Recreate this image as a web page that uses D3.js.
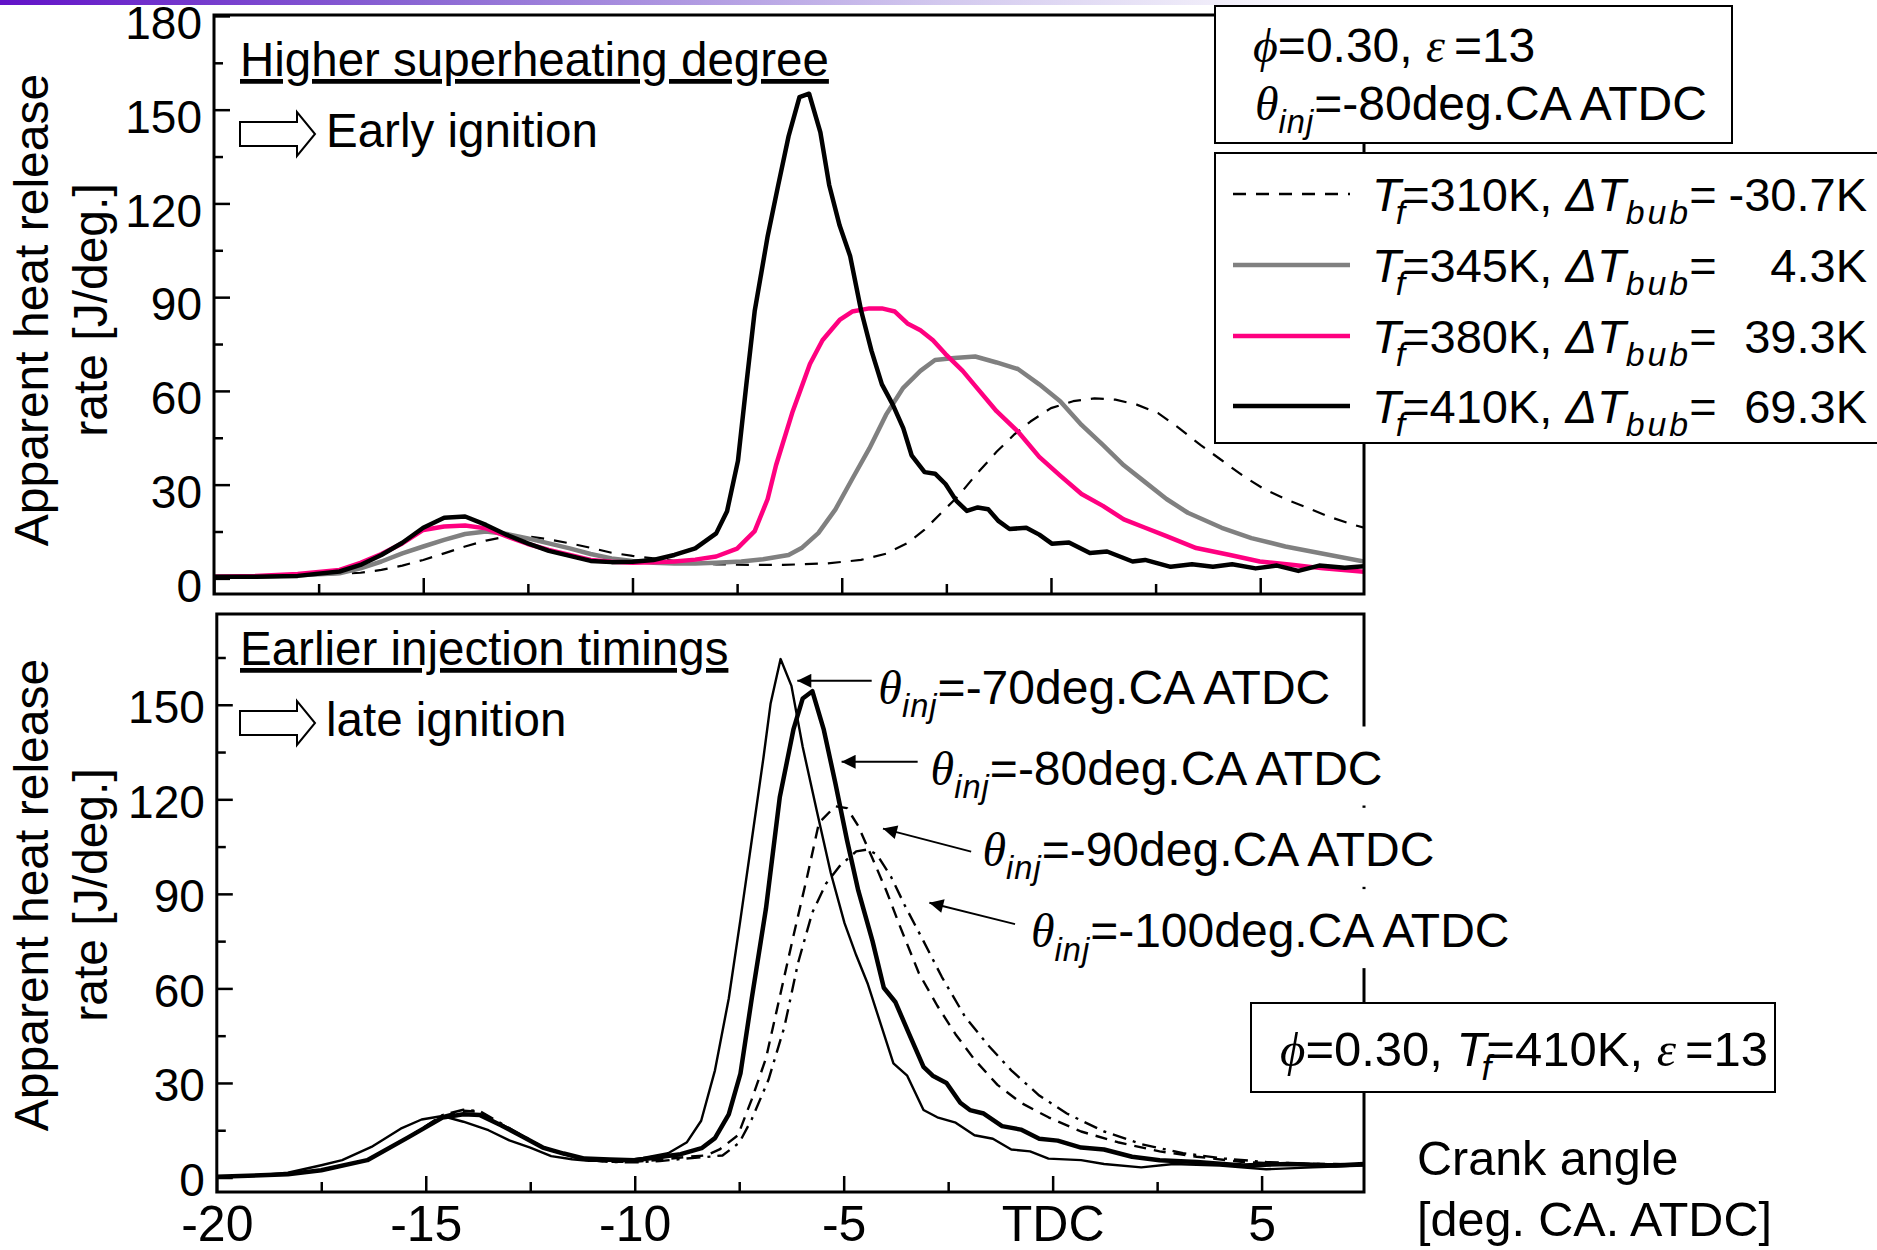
<!DOCTYPE html>
<html>
<head>
<meta charset="utf-8">
<script src="https://cdnjs.cloudflare.com/ajax/libs/d3/7.8.5/d3.min.js"></script>
<style>
  body { margin: 0; background: #fff; }
  svg { display: block; font-family: "Liberation Sans", Arial, sans-serif; }
  text { white-space: pre; }
</style>
</head>
<body>
<div id="chart"></div>
<script>
// Tick values
const xMajor = [-20, -15, -10, -5, 0, 5];
const xMinor = [-17.5, -12.5, -7.5, -2.5, 2.5];
const yMajorTop = [0, 30, 60, 90, 120, 150, 180];
const yMajorBottom = [0, 30, 60, 90, 120, 150];
const yMinor = [15, 45, 75, 105, 135, 165];

// Top panel: fuel temperature series [crank angle, heat release rate]
const top310 = [[-20,0.5],[-19,0.6],[-18,1.0],[-17,1.4],[-16.5,1.8],[-16,2.7],[-15.5,4.1],[-15,5.9],[-14.5,8.0],[-14,10.2],[-13.5,12.1],[-13,13.4],[-12.5,13.4],[-12,12.5],[-11.5,11.2],[-11,9.8],[-10.5,8.2],[-10,7.2],[-9.5,6.4],[-9,5.6],[-8.5,4.8],[-8,4.5],[-7,4.3],[-6.4,4.3],[-5.35,4.8],[-4.54,5.9],[-3.94,7.9],[-3.43,11.3],[-3.02,15.6],[-2.62,21.0],[-2.21,26.4],[-1.81,32.9],[-1.3,40.5],[-0.89,45.9],[-0.49,50.2],[0,54.5],[0.53,56.7],[1.04,57.6],[1.54,57.2],[2.05,55.6],[2.56,52.9],[3.06,48.1],[3.57,42.7],[4.08,37.8],[4.58,32.9],[5.09,28.6],[5.6,25.4],[6.11,22.7],[6.61,19.9],[7.22,17.2],[7.48,16.2]];
const top345 = [[-20,0.5],[-19,0.6],[-18,1.0],[-17,1.6],[-16.5,3.2],[-16,5.4],[-15.5,8.0],[-15,10.2],[-14.5,12.3],[-14,14.2],[-13.5,15.0],[-13,14.2],[-12.5,12.8],[-12,11.2],[-11.5,9.6],[-11,7.8],[-10.5,6.4],[-10,5.6],[-9.5,5.0],[-9,4.8],[-8.5,4.8],[-8,5.0],[-7.4,5.4],[-6.88,6.1],[-6.27,7.5],[-5.96,9.7],[-5.56,14.5],[-5.15,22.1],[-4.75,31.8],[-4.34,41.6],[-3.94,52.4],[-3.53,61.0],[-3.12,66.4],[-2.77,69.9],[-2.31,70.5],[-1.81,71.0],[-1.3,69.1],[-0.79,67.0],[-0.28,62.1],[0.22,56.7],[0.73,49.1],[1.24,42.7],[1.74,36.2],[2.25,30.8],[2.76,25.4],[3.27,21.0],[4.08,16.2],[4.79,12.9],[5.6,10.2],[6.41,8.1],[7.48,5.4]];
const top380 = [[-20,0.5],[-19,0.8],[-18,1.4],[-17,2.7],[-16.5,5.0],[-16,7.8],[-15.5,11.2],[-15,15.5],[-14.5,16.6],[-14,16.9],[-13.5,16.0],[-13,13.4],[-12.5,11.0],[-12,9.1],[-11.5,7.5],[-11,5.9],[-10.5,5.3],[-10,5.0],[-9.5,5.2],[-9,5.4],[-8.5,6.0],[-8,7.0],[-7.5,9.5],[-7.08,15.1],[-6.77,25.4],[-6.57,36.2],[-6.17,53.5],[-5.76,68.6],[-5.46,76.2],[-5.05,82.7],[-4.75,85.4],[-4.34,86.4],[-4.04,86.4],[-3.73,85.4],[-3.43,81.6],[-3.12,79.4],[-2.82,76.2],[-2.52,71.8],[-2.11,66.4],[-1.81,61.6],[-1.3,53.5],[-0.79,47.0],[-0.28,38.9],[0.22,32.9],[0.73,27.0],[1.24,23.2],[1.74,18.9],[2.25,16.2],[2.76,13.5],[3.47,9.7],[4.28,7.5],[4.99,5.4],[5.8,4.3],[6.51,3.2],[7.48,2.1]];
const top410 = [[-20,0.5],[-19,0.5],[-18,0.8],[-17,2.2],[-16.5,4.3],[-16,7.5],[-15.5,11.4],[-15,16.2],[-14.5,19.4],[-14,19.8],[-13.5,17.1],[-13,13.9],[-12.5,11.2],[-12,8.8],[-11.5,7.2],[-11,5.6],[-10.5,5.2],[-10,5.3],[-9.5,5.9],[-9,7.5],[-8.5,9.6],[-8,14.4],[-7.74,21.5],[-7.48,37.6],[-7.28,62],[-7.08,85.5],[-6.77,109.5],[-6.52,125.7],[-6.27,141.5],[-6.01,154],[-5.78,155.1],[-5.51,142.7],[-5.3,125.9],[-5.05,112.9],[-4.8,103.2],[-4.54,85.9],[-4.29,72.9],[-4.04,62.1],[-3.78,55.6],[-3.53,48.1],[-3.33,39.4],[-3.02,34.0],[-2.77,33.5],[-2.52,30.2],[-2.26,24.8],[-2.01,21.6],[-1.75,22.7],[-1.5,22.1],[-1.25,18.3],[-0.99,15.8],[-0.59,16.2],[-0.28,14.0],[0.02,11.1],[0.43,11.5],[0.93,8.1],[1.34,8.6],[1.95,5.4],[2.25,5.9],[2.86,3.7],[3.37,4.5],[3.87,3.7],[4.33,4.5],[4.89,3.2],[5.4,4.1],[5.91,2.4],[6.41,4.1],[7.02,3.4],[7.48,3.9]];

// Bottom panel: injection timing series
const inj70 = [[-20,0.2],[-19.2,0.5],[-18.3,1.5],[-17.5,3.9],[-17,5.5],[-16.3,9.7],[-15.6,15.5],[-15.1,18.4],[-14.6,19.5],[-14.1,17.7],[-13.5,15.0],[-13,11.8],[-12.5,9.5],[-12,6.8],[-11.5,5.8],[-11.1,5.3],[-10.6,5.3],[-10.2,5.5],[-9.8,6.2],[-9.2,7.7],[-8.75,11.2],[-8.41,18.0],[-8.08,34.0],[-7.75,56.8],[-7.47,81.9],[-7.2,107.0],[-6.92,133.2],[-6.75,150.3],[-6.51,164.5],[-6.25,156.0],[-5.98,136.6],[-5.64,116.1],[-5.31,96.7],[-4.98,80.7],[-4.7,70.5],[-4.42,61.3],[-4.09,47.7],[-3.81,36.2],[-3.48,32.3],[-3.09,21.4],[-2.76,19.1],[-2.32,17.4],[-1.87,13.4],[-1.43,12.3],[-0.99,8.9],[-0.54,8.3],[-0.1,6.0],[0.68,5.5],[1.23,4.3],[2.12,3.2],[2.89,4.3],[4.0,3.8],[5.11,2.6],[6.22,3.2],[7.45,3.8]];
const inj80 = [[-20,0.2],[-18.3,1.0],[-17.5,2.3],[-16.4,5.5],[-15.4,12.9],[-14.6,19.0],[-14.1,20.1],[-13.7,19.8],[-13.2,16.6],[-12.7,13.1],[-12.2,9.5],[-11.7,7.6],[-11.2,6.0],[-10.6,5.7],[-10,5.5],[-9.4,6.5],[-8.9,7.4],[-8.4,9.3],[-8.08,12.5],[-7.75,20],[-7.47,33],[-7.2,56.8],[-6.86,85.3],[-6.53,120.6],[-6.2,142.3],[-5.98,152.0],[-5.75,154.3],[-5.48,142.3],[-5.2,125.2],[-4.92,107.0],[-4.65,91.0],[-4.31,75.0],[-4.04,60.2],[-3.76,55.6],[-3.43,45.4],[-3.09,35.1],[-2.87,32.3],[-2.54,30.0],[-2.21,23.7],[-1.98,21.4],[-1.65,20.3],[-1.21,16.3],[-0.76,15.2],[-0.32,12.3],[0.12,11.7],[0.68,9.5],[1.23,8.9],[1.9,6.6],[2.56,5.5],[3.45,4.9],[4.56,3.8],[5.67,4.3],[6.77,3.8],[7.45,4.3]];
const inj90 = [[-20,0.2],[-18.3,1.0],[-17.5,2.3],[-16.4,5.5],[-15.4,12.9],[-14.6,19.5],[-14.1,21.2],[-13.7,20.8],[-13.2,17.0],[-12.7,13.3],[-12.2,9.6],[-11.7,7.4],[-11.2,5.6],[-10.6,5.0],[-10,5.0],[-9.4,5.6],[-8.8,6.5],[-8.3,7.0],[-7.97,8.9],[-7.53,13.4],[-7.2,24.8],[-6.86,37.8],[-6.53,57.3],[-6.2,76.8],[-5.86,96.3],[-5.59,112.6],[-5.2,117.8],[-4.92,117.2],[-4.65,111.5],[-4.31,101.2],[-3.98,91.0],[-3.65,79.6],[-3.2,64.8],[-2.76,54.5],[-2.32,45.4],[-1.87,37.4],[-1.32,29.4],[-0.76,23.7],[-0.1,19.1],[0.68,14.6],[1.56,11.2],[2.56,8.3],[3.45,6.6],[4.56,4.9],[5.67,4.3],[6.77,4.3],[7.45,4.0]];
const inj100 = [[-20,0.2],[-18.3,1.0],[-17.5,2.3],[-16.4,5.5],[-15.4,12.9],[-14.6,19.8],[-14.1,21.5],[-13.7,21.0],[-13.2,17.2],[-12.7,13.4],[-12.2,9.7],[-11.7,7.4],[-11.2,5.6],[-10.6,4.9],[-10,4.8],[-9.4,5.2],[-8.8,6.0],[-8.3,6.5],[-7.9,7.0],[-7.5,11.0],[-7.2,18.5],[-6.8,31.0],[-6.42,47.7],[-6.09,68.2],[-5.75,84.1],[-5.42,93.3],[-5.09,98.9],[-4.7,103.5],[-4.42,104.1],[-4.2,102.4],[-3.87,95.5],[-3.54,86.4],[-3.09,75.0],[-2.65,63.6],[-2.1,51.1],[-1.54,41.9],[-0.99,34.0],[-0.32,26.0],[0.34,20.3],[1.23,14.6],[2.12,10.6],[3.12,7.7],[4.11,6.0],[5.11,4.9],[6.22,4.3],[7.45,4.1]];

// Legend / annotation texts
const legendTf = ['310K', '345K', '380K', '410K'];
const legendDT = ['-30.7K', '4.3K', '39.3K', '69.3K'];
const injLabels = ['-70', '-80', '-90', '-100'];
// annotation anchor points in data units: arrow tip, arrow tail, text start
const injTips = [[-6.11, 157.6], [-5.05, 131.9], [-4.06, 110.7], [-2.95, 87.2]];
const injTails = [[-4.33, 157.6], [-3.23, 131.9], [-1.95, 103.4], [-0.90, 80.4]];
const injText = [[-4.17, 150.4], [-2.92, 124.7], [-1.68, 98.9], [-0.52, 73.1]];

const W = 1877, H = 1250;
const FS = 46;
const SERIF = '"Liberation Serif", "DejaVu Serif", serif';

const svg = d3.select('#chart').append('svg')
    .attr('width', W)
    .attr('height', H);

const defs = svg.append('defs');

// Slide header bar
const grad = defs.append('linearGradient').attr('id', 'bar').attr('x1', 0).attr('x2', 1);
grad.append('stop').attr('offset', 0).attr('stop-color', '#6212c8');
grad.append('stop').attr('offset', 0.22).attr('stop-color', '#8a66d3');
grad.append('stop').attr('offset', 0.5).attr('stop-color', '#d2c8ee');
grad.append('stop').attr('offset', 0.72).attr('stop-color', '#ffffff');
svg.append('rect').attr('x', 0).attr('y', 0).attr('width', W).attr('height', 5).attr('fill', 'url(#bar)');

// Text with italic / subscript parts
function richText(parent, x, y, parts, size, subOpt) {
    const fs = size || FS;
    const so = subOpt || { scale: 0.66, ls: 0 };
    const t = parent.append('text').attr('x', x).attr('y', y).attr('font-size', fs);
    let down = false;
    parts.forEach(p => {
        const ts = t.append('tspan').text(p.t);
        if (p.i) ts.attr('font-style', 'italic');
        if (p.g) ts.attr('font-family', SERIF);
        if (p.sub) {
            ts.attr('font-size', fs * so.scale).attr('dy', fs * 0.28);
            if (so.ls) ts.attr('letter-spacing', so.ls);
            down = true;
        } else if (down) {
            ts.attr('dy', -fs * 0.28);
            down = false;
        }
        if (p.dx) ts.attr('dx', p.dx);
    });
    return t;
}

function hollowArrow(parent, x, y) {
    // x: left end, y: centre line
    const pts = [[x, y - 12], [x + 57, y - 12], [x + 57, y - 22], [x + 75, y], [x + 57, y + 22], [x + 57, y + 12], [x, y + 12]];
    parent.append('polygon')
        .attr('points', pts.map(p => p.join(',')).join(' '))
        .attr('fill', '#fff').attr('stroke', '#000').attr('stroke-width', 2);
}

// Draw one panel with frame, ticks and curves
function drawPanel(cfg) {
    const g = svg.append('g');
    const x = d3.scaleLinear().domain([-20, cfg.xMax]).range([cfg.left, 1364]);
    const y = d3.scaleLinear().domain(cfg.yDomain).range([cfg.bottom, cfg.top]);

    const clipId = 'clip' + cfg.id;
    defs.append('clipPath').attr('id', clipId).append('rect')
        .attr('x', cfg.left).attr('y', cfg.top)
        .attr('width', 1364 - cfg.left).attr('height', cfg.bottom - cfg.top);

    // x ticks (major with optional labels, minor shorter)
    const xa = g.append('g').attr('transform', `translate(0,${cfg.bottom})`)
        .call(d3.axisBottom(x).tickValues(xMajor).tickSizeInner(-16).tickSizeOuter(0).tickPadding(13)
            .tickFormat(d => cfg.xLabels ? (d === 0 ? 'TDC' : d) : ''));
    g.append('g').attr('transform', `translate(0,${cfg.bottom})`)
        .call(d3.axisBottom(x).tickValues(xMinor).tickSizeInner(-10).tickSizeOuter(0).tickFormat(''));

    // y ticks
    const ya = g.append('g').attr('transform', `translate(${cfg.left},0)`)
        .call(d3.axisLeft(y).tickValues(cfg.yMajor).tickSizeInner(-16).tickSizeOuter(0).tickPadding(12));
    g.append('g').attr('transform', `translate(${cfg.left},0)`)
        .call(d3.axisLeft(y).tickValues(yMinor).tickSizeInner(-9).tickSizeOuter(0).tickFormat(''));

    g.selectAll('.domain').remove();
    g.selectAll('.tick line').attr('stroke', '#000').attr('stroke-width', 2.5);
    g.selectAll('.tick text').attr('fill', '#000');
    xa.attr('font-size', 50).attr('font-family', null);
    ya.attr('font-size', FS).attr('font-family', null);
    ya.selectAll('text').attr('dy', (0.32 * FS + cfg.labelShift) + 'px');

    // curves
    const line = d3.line().x(d => x(d[0])).y(d => y(d[1]));
    const cg = g.append('g').attr('clip-path', `url(#${clipId})`);
    cfg.series.forEach(s => {
        cg.append('path').datum(s.data)
            .attr('d', line)
            .attr('fill', 'none')
            .attr('stroke', s.color)
            .attr('stroke-width', s.width)
            .attr('stroke-dasharray', s.dash || null)
            .attr('stroke-linejoin', 'round');
    });

    // frame
    g.append('rect')
        .attr('x', cfg.left).attr('y', cfg.top)
        .attr('width', 1364 - cfg.left).attr('height', cfg.bottom - cfg.top)
        .attr('fill', 'none').attr('stroke', '#000').attr('stroke-width', 3);

    // y axis title
    const yt = g.append('text')
        .attr('transform', `translate(0,${cfg.titleY}) rotate(-90)`)
        .attr('text-anchor', 'middle').attr('font-size', 48);
    yt.append('tspan').attr('x', 0).attr('y', 48).text('Apparent heat release');
    yt.append('tspan').attr('x', 0).attr('y', 107).text('rate [J/deg.]');

    // panel heading
    g.append('text').attr('x', 240).attr('y', cfg.top + cfg.headDy).attr('font-size', 47.5)
        .attr('text-decoration', 'underline').text(cfg.heading);
    hollowArrow(g, 240, cfg.top + cfg.headDy + 58);
    g.append('text').attr('x', 326).attr('y', cfg.top + cfg.headDy + 71).attr('font-size', 47.5)
        .text(cfg.note);

    return { g, x, y };
}

// Top panel
const topPanel = drawPanel({
    id: 'top', left: 214, top: 15, bottom: 594, xMax: 7.48, yDomain: [-5, 180.3],
    yMajor: yMajorTop, labelShift: 8, xLabels: false, titleY: 310,
    heading: 'Higher superheating degree', note: 'Early ignition', headDy: 61,
    series: [
        { data: top310, color: '#000', width: 2.2, dash: '13,10' },
        { data: top345, color: '#808080', width: 4.5 },
        { data: top380, color: '#ff0080', width: 4.5 },
        { data: top410, color: '#000', width: 4.5 }
    ]
});

// Bottom panel
const botPanel = drawPanel({
    id: 'bot', left: 216.8, top: 614, bottom: 1192, xMax: 7.45, yDomain: [-4.6, 178.8],
    yMajor: yMajorBottom, labelShift: 3, xLabels: true, titleY: 895,
    heading: 'Earlier injection timings', note: 'late ignition', headDy: 51,
    series: [
        { data: inj70, color: '#000', width: 2.4 },
        { data: inj80, color: '#000', width: 4.5 },
        { data: inj90, color: '#000', width: 2.4, dash: '12,8' },
        { data: inj100, color: '#000', width: 2.4, dash: '14,7,3,7' }
    ]
});

// Injection timing annotations with arrows
defs.append('marker').attr('id', 'head').attr('viewBox', '0 0 10 10')
    .attr('refX', 10).attr('refY', 5).attr('markerWidth', 20).attr('markerHeight', 14)
    .attr('markerUnits', 'userSpaceOnUse').attr('orient', 'auto')
    .append('path').attr('d', 'M0,0 L10,5 L0,10 Z').attr('fill', '#000');

const annSub = { scale: 0.68, ls: 1 };
injLabels.forEach((lab, i) => {
    const bx = botPanel.x, by = botPanel.y;
    const tx = bx(injText[i][0]), ty = by(injText[i][1]);
    const bg = botPanel.g.append('rect').attr('fill', '#fff');
    const t = richText(botPanel.g, tx, ty, [
        { t: 'θ', i: true, g: true },
        { t: 'inj', i: true, sub: true },
        { t: '=' + lab + 'deg.CA ATDC' }
    ], 48, annSub);
    const bb = t.node().getBBox();
    bg.attr('x', bb.x - 6).attr('y', ty - 58).attr('width', bb.width + 14).attr('height', 79);
    botPanel.g.append('line')
        .attr('x1', bx(injTails[i][0])).attr('y1', by(injTails[i][1]))
        .attr('x2', bx(injTips[i][0])).attr('y2', by(injTips[i][1]))
        .attr('stroke', '#000').attr('stroke-width', 2)
        .attr('marker-end', 'url(#head)');
});

// Condition boxes and legend
const lg = svg.append('g');
lg.append('rect').attr('x', 1215).attr('y', 6).attr('width', 517).attr('height', 137)
    .attr('fill', '#fff').attr('stroke', '#000').attr('stroke-width', 2);
richText(lg, 1253, 62, [
    { t: 'ϕ', i: true, g: true }, { t: '=0.30, ' }, { t: 'ε', i: true, g: true }, { t: '=13', dx: 9 }
], 48);
richText(lg, 1255, 120, [
    { t: 'θ', i: true, g: true }, { t: 'inj', i: true, sub: true }, { t: '=-80deg.CA ATDC' }
], 48, annSub);

lg.append('rect').attr('x', 1215).attr('y', 153).attr('width', 700).attr('height', 290)
    .attr('fill', '#fff').attr('stroke', '#000').attr('stroke-width', 2);
const legendStyle = [
    { color: '#000', width: 2.5, dash: '13,10' },
    { color: '#808080', width: 4.5 },
    { color: '#ff0080', width: 4.5 },
    { color: '#000', width: 4.5 }
];
const rowY = [194, 265, 336, 406];
const legSub = { scale: 0.72, ls: 3 };
legendTf.forEach((tf, i) => {
    lg.append('line').attr('x1', 1233).attr('x2', 1350).attr('y1', rowY[i]).attr('y2', rowY[i])
        .attr('stroke', legendStyle[i].color).attr('stroke-width', legendStyle[i].width)
        .attr('stroke-dasharray', legendStyle[i].dash || null);
    richText(lg, 1372, rowY[i] + 17, [
        { t: 'T', i: true }, { t: 'f', i: true, sub: true, dx: -5 }, { t: '=' + tf + ', ', dx: -6 },
        { t: 'ΔT', i: true }, { t: 'bub', i: true, sub: true }, { t: '=', dx: -2 }
    ], 47, legSub);
    lg.append('text').attr('x', 1867).attr('y', rowY[i] + 17).attr('font-size', 47)
        .attr('text-anchor', 'end').text(legendDT[i]);
});

lg.append('rect').attr('x', 1251).attr('y', 1003).attr('width', 524).attr('height', 89)
    .attr('fill', '#fff').attr('stroke', '#000').attr('stroke-width', 2);
richText(lg, 1280, 1066, [
    { t: 'ϕ', i: true, g: true }, { t: '=0.30, ' }, { t: 'T', i: true }, { t: 'f', i: true, sub: true, dx: -5 },
    { t: '=410K, ', dx: -5 }, { t: 'ε', i: true, g: true }, { t: '=13', dx: 9 }
], 49, { scale: 0.72, ls: 0 });

// x axis title
lg.append('text').attr('x', 1417).attr('y', 1175).attr('font-size', 48.5).text('Crank angle');
lg.append('text').attr('x', 1417).attr('y', 1236).attr('font-size', 48.5).text('[deg. CA. ATDC]');
</script>
</body>
</html>
